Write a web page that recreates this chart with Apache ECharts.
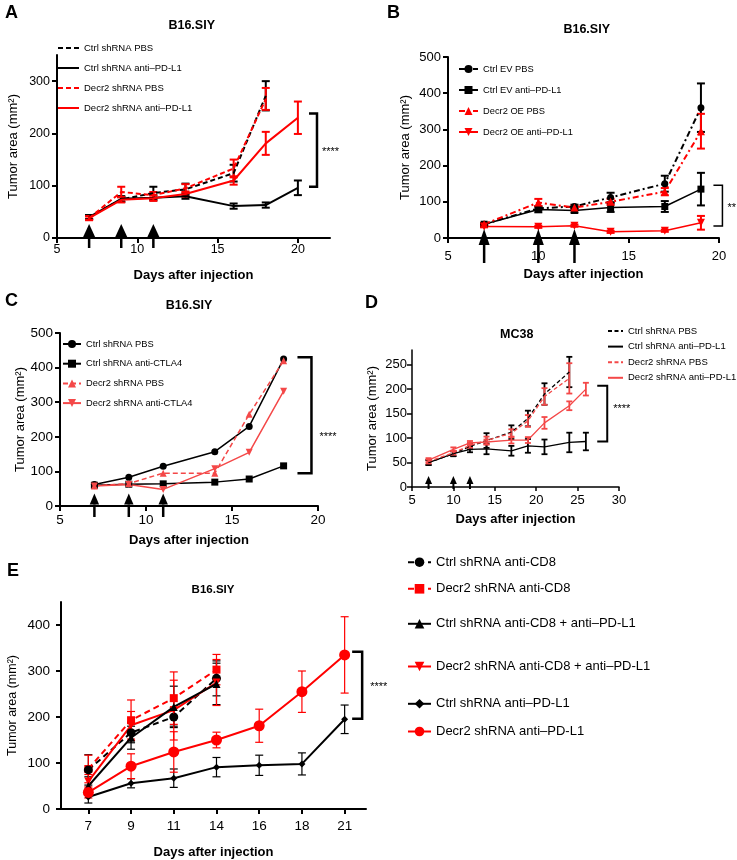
<!DOCTYPE html>
<html>
<head>
<meta charset="utf-8">
<script src="https://cdn.jsdelivr.net/npm/echarts@6/dist/echarts.min.js"></script>
<style>html,body{margin:0;padding:0;background:#fff}#chart{width:737px;height:860px}</style>
</head>
<body>
<div id="chart"></div>
<script>
const FONT = '"Liberation Sans", Arial, Helvetica, sans-serif';
const BLACK = '#000000';
const RED = '#ff0000';
const RED2 = '#f44848';

// A: B16.SIY, shRNA +/- anti-PD-L1
const aDaysPbs = [7, 9, 11, 13, 16, 18];
const aDaysPdl1 = [7, 9, 11, 13, 16, 18, 20];
const aCtrlPbs = [40, 74, 86, 93, 124, 272];
const aCtrlPbsErr = [4, 5, 12, 11, 16, 28];
const aCtrlPdl1 = [40, 75, 77, 80, 61, 63, 96];
const aCtrlPdl1Err = [4, 5, 5, 5, 5, 5, 14];
const aDecrPbs = [38, 88, 82, 95, 133, 266];
const aDecrPbsErr = [4, 10, 6, 8, 17, 21];
const aDecrPdl1 = [38, 73, 76, 84, 110, 181, 230];
const aDecrPdl1Err = [3, 5, 5, 5, 8, 22, 31];
const aArrowDays = [7, 9, 11];
const aXTicks = [5, 10, 15, 20];
const aYTicks = [0, 100, 200, 300];

// B: B16.SIY, Decr2 overexpression
const bDays = [7, 10, 12, 14, 17, 19];
const bCtrlPbs = [38, 82, 87, 112, 150, 360];
const bCtrlPbsErr = [3, 5, 5, 13, 22, 67];
const bCtrlPdl1 = [38, 79, 76, 84, 87, 135];
const bCtrlPdl1Err = [3, 8, 6, 12, 15, 45];
const bOePbs = [38, 98, 84, 100, 128, 295];
const bOePbsErr = [3, 10, 5, 8, 10, 48];
const bOePdl1 = [32, 31, 34, 17, 20, 42];
const bOePdl1Err = [2, 3, 3, 3, 3, 19];
const bArrowDays = [7, 10, 12];
const bXTicks = [5, 10, 15, 20];
const bYTicks = [0, 100, 200, 300, 400, 500];

// C: B16.SIY, anti-CTLA4
const cDays = [7, 9, 11, 14, 16, 18];
const cCtrlPbs = [62, 83, 115, 157, 230, 425];
const cCtrlCtla4 = [60, 63, 64, 69, 78, 116];
const cDecrPbs = [58, 65, 95, 95, 265, 420];
const cDecrCtla4 = [58, 62, 48, 108, 155, 332];
const cArrowDays = [7, 9, 11];
const cXTicks = [5, 10, 15, 20];
const cYTicks = [0, 100, 200, 300, 400, 500];

// D: MC38
const dDaysPbs = [7, 10, 12, 14, 17, 19, 21, 24];
const dDaysPdl1 = [7, 10, 12, 14, 17, 19, 21, 24, 26];
const dCtrlPbs = [50, 68, 83, 95, 112, 140, 190, 235];
const dCtrlPbsErr = [5, 5, 6, 15, 14, 16, 22, 31];
const dCtrlPdl1 = [50, 68, 77, 78, 74, 84, 82, 91, 93];
const dCtrlPdl1Err = [5, 5, 6, 11, 10, 14, 15, 20, 18];
const dDecrPbs = [52, 70, 85, 95, 110, 135, 185, 222];
const dDecrPbsErr = [4, 4, 5, 8, 8, 12, 17, 31];
const dDecrPdl1 = [55, 77, 90, 92, 96, 96, 131, 166, 200];
const dDecrPdl1Err = [4, 4, 4, 5, 7, 6, 12, 9, 13];
const dArrowDays = [7, 10, 12];
const dXTicks = [5, 10, 15, 20, 25, 30];
const dYTicks = [0, 50, 100, 150, 200, 250];

// E: B16.SIY, CD8 depletion (evenly spaced days)
const eDayLabels = ['7', '9', '11', '14', '16', '18', '21'];
const eShort = [0, 1, 2, 3];
const eLong = [0, 1, 2, 3, 4, 5, 6];
const eCtrlCd8 = [85, 166, 200, 284];
const eCtrlCd8Err = [33, 22, 20, 38];
const eDecrCd8 = [87, 193, 241, 303];
const eDecrCd8Err = [30, 44, 57, 33];
const eCtrlCd8Pdl1 = [50, 155, 222, 272];
const eCtrlCd8Pdl1Err = [20, 25, 45, 45];
const eDecrCd8Pdl1 = [60, 182, 215, 275];
const eDecrCd8Pdl1Err = [15, 30, 65, 50];
const eCtrlPdl1 = [26, 56, 67, 91, 95, 98, 195];
const eCtrlPdl1Err = [13, 10, 20, 21, 22, 24, 31];
const eDecrPdl1 = [36, 93, 124, 150, 181, 255, 335];
const eDecrPdl1Err = [12, 27, 44, 17, 36, 45, 83];
const eYTicks = [0, 100, 200, 300, 400];

const grids = [
    { left: 57, top: 55, width: 273, height: 183 },
    { left: 448, top: 57, width: 271, height: 181 },
    { left: 60, top: 333, width: 258, height: 173 },
    { left: 412, top: 350, width: 207, height: 137 },
    { left: 61, top: 602, width: 305, height: 207 }
].map(g => Object.assign({ outerBoundsMode: 'none', containLabel: false }, g));

function xAxis(grid, min, max, ticks, o) {
    const label = { customValues: ticks, margin: o.margin, fontFamily: FONT, fontSize: o.fs, color: BLACK };
    if (o.fmt) label.formatter = o.fmt;
    return {
        type: 'value', gridIndex: grid, min: min, max: max,
        name: 'Days after injection', nameLocation: 'middle', nameGap: o.nameGap,
        nameTextStyle: { fontFamily: FONT, fontSize: 13, fontWeight: 'bold', color: BLACK },
        axisLine: { show: true, onZero: false, lineStyle: { color: BLACK, width: o.lw } },
        axisTick: { show: true, length: o.tick, customValues: ticks, lineStyle: { color: BLACK, width: o.lw } },
        axisLabel: label,
        splitLine: { show: false }
    };
}

function yAxis(grid, max, ticks, o) {
    return {
        type: 'value', gridIndex: grid, min: 0, max: max,
        name: 'Tumor area (mm²)', nameLocation: 'middle', nameGap: o.nameGap, nameRotate: 90,
        nameTextStyle: { fontFamily: FONT, fontSize: o.nfs || 13, color: BLACK },
        axisLine: { show: true, onZero: false, lineStyle: { color: BLACK, width: o.lw } },
        axisTick: { show: true, length: 5, customValues: ticks, lineStyle: { color: BLACK, width: o.lw } },
        axisLabel: { customValues: ticks, margin: o.margin, fontFamily: FONT, fontSize: o.fs, color: BLACK },
        splitLine: { show: false }
    };
}

function line(name, grid, xs, ys, s) {
    return {
        type: 'line', name: name, xAxisIndex: grid, yAxisIndex: grid, z: s.z || 3,
        data: xs.map((x, i) => [x, ys[i]]),
        symbol: s.symbol || 'none', symbolSize: s.size || 6, symbolRotate: s.rotate || 0,
        showSymbol: !!s.symbol,
        lineStyle: { color: s.color, width: s.width, type: s.type || 'solid' },
        itemStyle: { color: s.color },
        animation: false, silent: true
    };
}

function errorBars(grid, xs, ys, es, color, cap, lw) {
    return {
        type: 'custom', xAxisIndex: grid, yAxisIndex: grid, z: 2, silent: true, animation: false,
        data: xs.map((x, i) => [x, ys[i], es[i]]),
        renderItem: (params, api) => {
            const x = api.value(0), y = api.value(1), e = api.value(2);
            const top = api.coord([x, y + e]);
            const bot = api.coord([x, y - e]);
            const st = { stroke: color, lineWidth: lw };
            return {
                type: 'group', children: [
                    { type: 'line', shape: { x1: top[0], y1: top[1], x2: bot[0], y2: bot[1] }, style: st },
                    { type: 'line', shape: { x1: top[0] - cap, y1: top[1], x2: top[0] + cap, y2: top[1] }, style: st },
                    { type: 'line', shape: { x1: bot[0] - cap, y1: bot[1], x2: bot[0] + cap, y2: bot[1] }, style: st }
                ]
            };
        }
    };
}

// treatment arrows, drawn from the y=0 point of each dosing day
function arrows(grid, xs, o) {
    return {
        type: 'custom', xAxisIndex: grid, yAxisIndex: grid, z: 5, silent: true, animation: false,
        data: xs.map(x => [x, 0]),
        renderItem: (params, api) => {
            const p = api.coord([api.value(0), api.value(1)]);
            return {
                type: 'group', children: [
                    { type: 'line', shape: { x1: p[0], y1: p[1] + o.base, x2: p[0], y2: p[1] + o.stem }, style: { stroke: BLACK, lineWidth: o.lw } },
                    { type: 'polygon', shape: { points: [[p[0], p[1] + o.tip], [p[0] - o.hw, p[1] + o.base], [p[0] + o.hw, p[1] + o.base]] }, style: { fill: BLACK } }
                ]
            };
        }
    };
}

function bracket(grid, x, y1, y2, o) {
    return {
        type: 'custom', xAxisIndex: grid, yAxisIndex: grid, z: 2, silent: true, animation: false,
        data: [[x, y1, y2]],
        renderItem: (params, api) => {
            const p1 = api.coord([api.value(0), api.value(1)]);
            const p2 = api.coord([api.value(0), api.value(2)]);
            return {
                type: 'group', children: [
                    { type: 'polyline', shape: { points: [[p1[0] - o.tick, p1[1]], p1, p2, [p2[0] - o.tick, p2[1]]] },
                      style: { stroke: BLACK, lineWidth: o.lw, fill: null } },
                    { type: 'text', x: p1[0] + o.dx, y: (p1[1] + p2[1]) / 2 + o.dy,
                      style: { text: o.label, fill: BLACK, font: '11px ' + FONT, align: 'left', verticalAlign: 'middle' } }
                ]
            };
        }
    };
}

function legend(names, left, top, itemWidth, itemHeight, gap, fs, lineOnly) {
    const lg = {
        show: true, orient: 'vertical', left: left, top: top, padding: 0,
        itemWidth: itemWidth, itemHeight: itemHeight, itemGap: gap,
        data: names, selectedMode: false,
        formatter: n => n.split('|')[1],
        textStyle: { fontFamily: FONT, fontSize: fs, color: BLACK, lineHeight: itemHeight }
    };
    if (lineOnly) lg.itemStyle = { opacity: 0 };
    return lg;
}

function label(text, x, y, size, bold, align, valign) {
    return {
        type: 'text', x: x, y: y, silent: true,
        style: { text: text, fill: BLACK, font: (bold ? 'bold ' : '') + size + 'px ' + FONT, align: align || 'center', verticalAlign: valign || 'middle' }
    };
}

const aN = ['A|Ctrl shRNA PBS', 'A|Ctrl shRNA anti–PD-L1', 'A|Decr2 shRNA PBS', 'A|Decr2 shRNA anti–PD-L1'];
const bN = ['B|Ctrl EV PBS', 'B|Ctrl EV anti–PD-L1', 'B|Decr2 OE PBS', 'B|Decr2 OE anti–PD-L1'];
const cN = ['C|Ctrl shRNA PBS', 'C|Ctrl shRNA anti-CTLA4', 'C|Decr2 shRNA PBS', 'C|Decr2 shRNA anti-CTLA4'];
const dN = ['D|Ctrl shRNA PBS', 'D|Ctrl shRNA anti–PD-L1', 'D|Decr2 shRNA PBS', 'D|Decr2 shRNA anti–PD-L1'];
const eN = ['E|Ctrl shRNA anti-CD8', 'E|Decr2 shRNA anti-CD8', 'E|Ctrl shRNA anti-CD8 + anti–PD-L1',
    'E|Decr2 shRNA anti-CD8 + anti–PD-L1', 'E|Ctrl shRNA anti–PD-L1', 'E|Decr2 shRNA anti–PD-L1'];
const eLegendY = [561.7, 588.3, 623.3, 666, 703.3, 731];

const series = [
    // A
    errorBars(0, aDaysPbs, aCtrlPbs, aCtrlPbsErr, BLACK, 4, 2),
    errorBars(0, aDaysPdl1, aCtrlPdl1, aCtrlPdl1Err, BLACK, 4, 2),
    errorBars(0, aDaysPbs, aDecrPbs, aDecrPbsErr, RED, 4, 2),
    errorBars(0, aDaysPdl1, aDecrPdl1, aDecrPdl1Err, RED, 4, 2),
    line(aN[0], 0, aDaysPbs, aCtrlPbs, { color: BLACK, width: 2, type: [5, 3] }),
    line(aN[1], 0, aDaysPdl1, aCtrlPdl1, { color: BLACK, width: 2 }),
    line(aN[2], 0, aDaysPbs, aDecrPbs, { color: RED, width: 2, type: [5, 3] }),
    line(aN[3], 0, aDaysPdl1, aDecrPdl1, { color: RED, width: 2 }),
    arrows(0, aArrowDays, { tip: -14, base: -1, stem: 10, hw: 6, lw: 2.5 }),
    bracket(0, 21.19, 238, 98, { tick: 8, lw: 2.5, label: '****', dx: 5, dy: 2 }),
    // B
    errorBars(1, bDays, bCtrlPbs, bCtrlPbsErr, BLACK, 4, 2),
    errorBars(1, bDays, bCtrlPdl1, bCtrlPdl1Err, BLACK, 4, 2),
    errorBars(1, bDays, bOePbs, bOePbsErr, RED, 4, 2),
    errorBars(1, bDays, bOePdl1, bOePdl1Err, RED, 4, 2),
    line(bN[0], 1, bDays, bCtrlPbs, { color: BLACK, width: 2, type: [6, 3, 2, 3], symbol: 'circle', size: 7 }),
    line(bN[1], 1, bDays, bCtrlPdl1, { color: BLACK, width: 1.5, symbol: 'rect', size: 7 }),
    line(bN[2], 1, bDays, bOePbs, { color: RED, width: 2, type: [6, 3, 2, 3], symbol: 'triangle', size: 8 }),
    line(bN[3], 1, bDays, bOePdl1, { color: RED, width: 1.5, symbol: 'triangle', size: 8, rotate: 180 }),
    arrows(1, bArrowDays, { tip: -9, base: 7, stem: 25, hw: 5.5, lw: 2.5 }),
    bracket(1, 20.19, 146, 33, { tick: 9, lw: 1.5, label: '**', dx: 5, dy: 2 }),
    // C
    line(cN[0], 2, cDays, cCtrlPbs, { color: BLACK, width: 1.5, symbol: 'circle', size: 7 }),
    line(cN[1], 2, cDays, cCtrlCtla4, { color: BLACK, width: 1.5, symbol: 'rect', size: 7 }),
    line(cN[2], 2, cDays, cDecrPbs, { color: RED2, width: 1.5, type: [5, 3], symbol: 'triangle', size: 7 }),
    line(cN[3], 2, cDays, cDecrCtla4, { color: RED2, width: 1.5, symbol: 'triangle', size: 7, rotate: 180 }),
    arrows(2, cArrowDays, { tip: -12.5, base: -1.5, stem: 11, hw: 4.7, lw: 2.5 }),
    bracket(2, 19.62, 430, 95, { tick: 14, lw: 2.5, label: '****', dx: 8, dy: 22 }),
    // D
    errorBars(3, dDaysPbs, dCtrlPbs, dCtrlPbsErr, BLACK, 3, 1.8),
    errorBars(3, dDaysPdl1, dCtrlPdl1, dCtrlPdl1Err, BLACK, 3, 1.8),
    errorBars(3, dDaysPbs, dDecrPbs, dDecrPbsErr, RED2, 3, 1.8),
    errorBars(3, dDaysPdl1, dDecrPdl1, dDecrPdl1Err, RED2, 3, 1.8),
    line(dN[0], 3, dDaysPbs, dCtrlPbs, { color: BLACK, width: 1.3, type: [4, 2.5] }),
    line(dN[1], 3, dDaysPdl1, dCtrlPdl1, { color: BLACK, width: 1.3 }),
    line(dN[2], 3, dDaysPbs, dDecrPbs, { color: RED2, width: 1.3, type: [4, 2.5] }),
    line(dN[3], 3, dDaysPdl1, dDecrPdl1, { color: RED2, width: 1.3 }),
    arrows(3, dArrowDays, { tip: -11, base: -3, stem: 2, hw: 3.5, lw: 2 }),
    bracket(3, 28.58, 207, 93, { tick: 10, lw: 2, label: '****', dx: 6, dy: -5 }),
    // E
    errorBars(4, eShort, eCtrlCd8, eCtrlCd8Err, BLACK, 4, 1.2),
    errorBars(4, eShort, eDecrCd8, eDecrCd8Err, RED, 4, 1.2),
    errorBars(4, eShort, eCtrlCd8Pdl1, eCtrlCd8Pdl1Err, BLACK, 4, 1.2),
    errorBars(4, eShort, eDecrCd8Pdl1, eDecrCd8Pdl1Err, RED, 4, 1.2),
    errorBars(4, eLong, eCtrlPdl1, eCtrlPdl1Err, BLACK, 4, 1.2),
    errorBars(4, eLong, eDecrPdl1, eDecrPdl1Err, RED, 4, 1.2),
    line(eN[1], 4, eShort, eDecrCd8, { color: RED, width: 2, type: [6, 4], symbol: 'rect', size: 8 }),
    line(eN[0], 4, eShort, eCtrlCd8, { color: BLACK, width: 2, type: [6, 4], symbol: 'circle', size: 9 }),
    line(eN[3], 4, eShort, eDecrCd8Pdl1, { color: RED, width: 2, symbol: 'triangle', size: 8, rotate: 180 }),
    line(eN[2], 4, eShort, eCtrlCd8Pdl1, { color: BLACK, width: 2, symbol: 'triangle', size: 8 }),
    line(eN[4], 4, eLong, eCtrlPdl1, { color: BLACK, width: 2, symbol: 'diamond', size: 7 }),
    line(eN[5], 4, eLong, eDecrPdl1, { color: RED, width: 2, symbol: 'circle', size: 11, z: 4 }),
    bracket(4, 6.41, 342, 196, { tick: 10, lw: 2.5, label: '****', dx: 8, dy: 2 })
];

const legends = [
    legend(aN, 57, 43, 21, 10, 10, 9.5, true),
    legend(bN, 458, 64, 19, 10, 11, 9.3),
    legend(cN, 62, 339, 18, 10, 9.7, 9.3),
    legend(dN, 607, 326, 15, 10, 5.6, 9.5, true)
].concat(eN.map((n, i) => legend([n], 407, eLegendY[i] - 6, 23, 12, 0, 13)));

const chart = echarts.init(document.getElementById('chart'), null, { renderer: 'canvas' });
chart.setOption({
    backgroundColor: '#ffffff',
    animation: false,
    textStyle: { fontFamily: FONT },
    grid: grids,
    xAxis: [
        xAxis(0, 5, 22, aXTicks, { nameGap: 31, lw: 2, tick: 5, margin: 5, fs: 12.5 }),
        xAxis(1, 5, 20, bXTicks, { nameGap: 30, lw: 2, tick: 5, margin: 12, fs: 13 }),
        xAxis(2, 5, 20, cXTicks, { nameGap: 28, lw: 2, tick: 5, margin: 7, fs: 13.5 }),
        xAxis(3, 5, 30, dXTicks, { nameGap: 26, lw: 1.5, tick: 4, margin: 7, fs: 13 }),
        xAxis(4, -0.64, 6.5, eLong, { nameGap: 37, lw: 2, tick: 5, margin: 10, fs: 13.5, fmt: v => eDayLabels[v] })
    ],
    yAxis: [
        yAxis(0, 350, aYTicks, { nameGap: 37, lw: 2, margin: 7, fs: 12.5 }),
        yAxis(1, 500, bYTicks, { nameGap: 36, lw: 2, margin: 7, fs: 13 }),
        yAxis(2, 500, cYTicks, { nameGap: 31, lw: 2, margin: 7, fs: 13.5 }),
        yAxis(3, 280, dYTicks, { nameGap: 33, lw: 1.5, margin: 5, fs: 13 }),
        yAxis(4, 450, eYTicks, { nameGap: 42, lw: 2, margin: 11, fs: 13.5, nfs: 12.5 })
    ],
    legend: legends,
    graphic: [
        label('A', 5, 4, 18, true, 'left', 'top'),
        label('B', 387, 4, 18, true, 'left', 'top'),
        label('C', 5, 292, 18, true, 'left', 'top'),
        label('D', 365, 294, 18, true, 'left', 'top'),
        label('E', 7, 562, 18, true, 'left', 'top'),
        label('B16.SIY', 191.7, 25.7, 12.5, true),
        label('B16.SIY', 586.7, 29.3, 12.5, true),
        label('B16.SIY', 189, 306, 12.5, true),
        label('MC38', 516.7, 335, 12.5, true),
        label('B16.SIY', 213, 590, 11.5, true)
    ],
    series: series
});
</script>
</body>
</html>
